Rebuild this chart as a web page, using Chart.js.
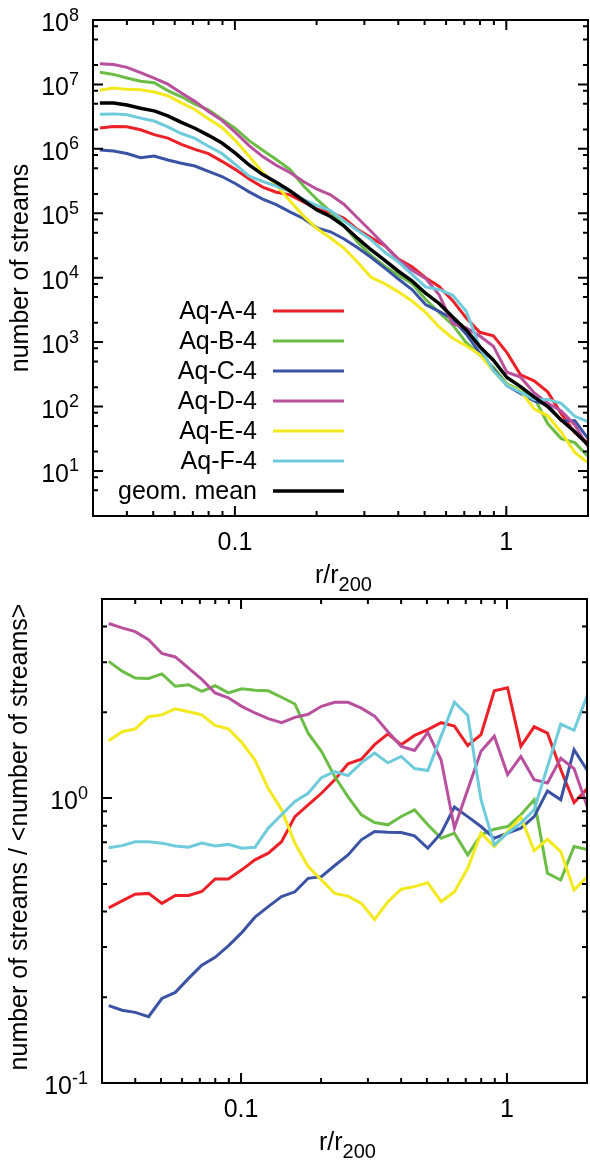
<!DOCTYPE html>
<html>
<head>
<meta charset="utf-8">
<script src="https://cdn.jsdelivr.net/npm/chart.js@4.4.1/dist/chart.umd.min.js"></script>
<style>
  html, body { margin: 0; padding: 0; background: #fff; }
  #wrap { position: relative; width: 590px; height: 1161px; }
  canvas { position: absolute; left: 0; }
  #chart-top { top: 0; }
  #chart-bottom { top: 580px; }
</style>
</head>
<body>
<div id="wrap">
  <canvas id="chart-top" width="590" height="600"></canvas>
  <canvas id="chart-bottom" width="590" height="581"></canvas>
</div>
<script>
// radial bins r/r200
const radius = [0.0318, 0.0357, 0.0400, 0.0449, 0.0504, 0.0566, 0.0635, 0.0712, 0.0799, 0.0896,
  0.1006, 0.1128, 0.1266, 0.1420, 0.1594, 0.1788, 0.2006, 0.2251, 0.2526, 0.2834,
  0.3180, 0.3568, 0.4003, 0.4492, 0.5040, 0.5655, 0.6345, 0.7119, 0.7987, 0.8962,
  1.0055, 1.1282, 1.2659, 1.4203, 1.5936, 1.7881, 2.0062];

// number of streams (top panel)
const countA = [2.11e6, 2.23e6, 2.20e6, 1.98e6, 1.66e6, 1.47e6, 1.17e6, 9.82e5, 8.43e5, 6.40e5,
  4.76e5, 3.41e5, 2.55e5, 2.12e5, 1.93e5, 1.50e5, 1.17e5, 1.03e5, 8.34e4, 5.58e4,
  4.15e4, 3.13e4, 1.94e4, 1.48e4, 1.00e4, 7.33e3, 4.40e3, 2.37e3, 1.42e3, 1.25e3,
  687, 310, 251, 169, 77.6, 39.4, 27.1];
const countB = [1.55e7, 1.43e7, 1.26e7, 1.12e7, 1.06e7, 8.00e6, 6.43e6, 4.95e6, 4.02e6, 2.88e6,
  2.06e6, 1.34e6, 9.48e5, 6.82e5, 4.79e5, 2.68e5, 1.64e5, 1.06e5, 6.37e4, 3.56e4,
  2.21e4, 1.50e4, 1.09e4, 8.11e3, 4.63e3, 2.88e3, 1.85e3, 979, 632, 408,
  224, 179, 139, 54.5, 31.8, 27.5, 16.6];
const countC = [9.59e5, 9.23e5, 8.47e5, 7.29e5, 7.71e5, 6.73e5, 5.98e5, 5.41e5, 4.48e5, 3.72e5,
  2.87e5, 2.15e5, 1.66e5, 1.36e5, 1.05e5, 8.30e4, 5.94e4, 5.16e4, 3.99e4, 2.91e4,
  2.06e4, 1.41e4, 9.53e3, 6.56e3, 3.84e3, 3.00e3, 2.28e3, 1.33e3, 676, 379,
  212, 160, 122, 106, 60.8, 60.3, 31.4];
const countD = [2.10e7, 2.03e7, 1.84e7, 1.53e7, 1.25e7, 1.01e7, 7.35e6, 5.46e6, 3.79e6, 2.77e6,
  1.79e6, 1.12e6, 7.57e5, 5.56e5, 4.30e5, 3.12e5, 2.36e5, 1.93e5, 1.37e5, 8.43e4,
  5.22e4, 3.18e4, 1.91e4, 1.31e4, 9.77e3, 5.42e3, 1.93e3, 1.66e3, 1.24e3, 865,
  341, 286, 164, 113, 85.1, 51.8, 23.3];
const countE = [8.15e6, 8.77e6, 8.38e6, 8.24e6, 7.62e6, 6.67e6, 5.16e6, 4.09e6, 2.92e6, 2.15e6,
  1.34e6, 7.66e5, 4.30e5, 2.75e5, 1.56e5, 9.12e4, 5.79e4, 4.13e4, 2.86e4, 1.74e4,
  1.01e4, 8.05e3, 6.03e3, 4.36e3, 2.90e3, 1.72e3, 1.15e3, 879, 641, 355,
  215, 175, 92.5, 71.8, 40.0, 19.4, 13.3];
const countF = [3.44e6, 3.49e6, 3.37e6, 3.00e6, 2.70e6, 2.20e6, 1.73e6, 1.45e6, 1.10e6, 8.47e5,
  5.68e5, 3.78e5, 3.13e5, 2.64e5, 2.18e5, 1.65e5, 1.32e5, 1.10e5, 7.57e4, 5.42e4,
  3.87e4, 2.48e4, 1.76e4, 1.13e4, 7.19e3, 6.56e3, 5.32e3, 3.02e3, 839, 360,
  212, 167, 129, 129, 112, 70.5, 57.8];
const countMean = [5.13e6, 5.13e6, 4.79e6, 4.27e6, 3.89e6, 3.24e6, 2.57e6, 2.09e6, 1.62e6, 1.23e6,
  8.51e5, 5.62e5, 3.98e5, 3.02e5, 2.24e5, 1.58e5, 1.12e5, 8.91e4, 6.31e4, 4.07e4,
  2.69e4, 1.86e4, 1.26e4, 8.91e3, 5.75e3, 3.98e3, 2.45e3, 1.55e3, 851, 525,
  282, 204, 141, 100, 61.7, 40.7, 25.1];

// number of streams / <number of streams> (bottom panel)
const ratioA = [0.412, 0.436, 0.460, 0.463, 0.427, 0.455, 0.455, 0.470, 0.520, 0.520,
  0.560, 0.607, 0.641, 0.703, 0.861, 0.947, 1.04, 1.16, 1.32, 1.37,
  1.54, 1.68, 1.54, 1.66, 1.74, 1.84, 1.79, 1.53, 1.67, 2.38,
  2.44, 1.52, 1.78, 1.69, 1.26, 0.965, 1.08];
const ratioB = [3.02, 2.79, 2.64, 2.63, 2.73, 2.47, 2.50, 2.37, 2.48, 2.34,
  2.42, 2.39, 2.38, 2.26, 2.14, 1.69, 1.46, 1.19, 1.01, 0.874,
  0.821, 0.806, 0.862, 0.91, 0.806, 0.723, 0.753, 0.632, 0.743, 0.778,
  0.795, 0.874, 0.987, 0.545, 0.516, 0.676, 0.66];
const ratioC = [0.187, 0.180, 0.177, 0.171, 0.198, 0.208, 0.233, 0.259, 0.276, 0.303,
  0.337, 0.382, 0.416, 0.451, 0.469, 0.523, 0.530, 0.58, 0.632, 0.714,
  0.763, 0.759, 0.757, 0.737, 0.667, 0.753, 0.930, 0.861, 0.795, 0.723,
  0.753, 0.785, 0.861, 1.06, 0.987, 1.48, 1.25];
const ratioD = [4.10, 3.96, 3.84, 3.60, 3.22, 3.13, 2.86, 2.61, 2.34, 2.25,
  2.10, 1.99, 1.90, 1.84, 1.92, 1.97, 2.10, 2.17, 2.17, 2.07,
  1.94, 1.71, 1.52, 1.47, 1.70, 1.36, 0.785, 1.07, 1.46, 1.65,
  1.21, 1.40, 1.16, 1.13, 1.38, 1.27, 0.93];
const ratioE = [1.59, 1.71, 1.75, 1.93, 1.96, 2.06, 2.01, 1.96, 1.80, 1.75,
  1.57, 1.36, 1.08, 0.91, 0.695, 0.575, 0.516, 0.463, 0.453, 0.427,
  0.375, 0.433, 0.479, 0.489, 0.505, 0.433, 0.469, 0.567, 0.753, 0.676,
  0.763, 0.857, 0.654, 0.717, 0.649, 0.476, 0.53];
const ratioF = [0.670, 0.681, 0.703, 0.703, 0.695, 0.679, 0.672, 0.695, 0.679, 0.688,
  0.667, 0.672, 0.785, 0.874, 0.973, 1.04, 1.18, 1.24, 1.20, 1.33,
  1.44, 1.33, 1.40, 1.27, 1.25, 1.65, 2.17, 1.95, 0.987, 0.685,
  0.753, 0.817, 0.91, 1.29, 1.82, 1.73, 2.3];

const seriesNames = ['Aq-A-4', 'Aq-B-4', 'Aq-C-4', 'Aq-D-4', 'Aq-E-4', 'Aq-F-4'];
const seriesColors = ['#ec2027', '#6bbd45', '#3a53a4', '#b8509e', '#f3e91c', '#6dcbdb'];

// ticks
const xMajor = [0.1, 1];
const xMinor = [0.04, 0.05, 0.06, 0.07, 0.08, 0.09, 0.2, 0.3, 0.4, 0.5, 0.6, 0.7, 0.8, 0.9, 2];
const topYMajor = [10, 100, 1e3, 1e4, 1e5, 1e6, 1e7, 1e8];
const topYMinor = [5, 8, 20, 50, 80, 200, 500, 800, 2e3, 5e3, 8e3, 2e4, 5e4, 8e4,
  2e5, 5e5, 8e5, 2e6, 5e6, 8e6, 2e7, 5e7, 8e7];
const botYMajor = [0.1, 1];
const botYMinor = [0.2, 0.3, 0.4, 0.5, 0.6, 0.7, 0.8, 0.9, 2, 3, 4];

const FONT = '"Liberation Sans", Arial, sans-serif';

const toPoints = vals => radius.map((r, k) => ({ x: r, y: vals[k] }));

function lineSet(label, color, vals, width, order) {
    return { label, data: toPoints(vals), borderColor: color, backgroundColor: color,
        borderWidth: width, pointRadius: 0, fill: false, tension: 0, clip: 0, order };
}

function drawPow(ctx, value, xRight, y) {
    const exp = String(Math.round(Math.log10(value)));
    ctx.font = `18px ${FONT}`;
    const ew = ctx.measureText(exp).width;
    ctx.font = `25px ${FONT}`;
    const bw = ctx.measureText('10').width;
    ctx.textAlign = 'left';
    ctx.textBaseline = 'alphabetic';
    ctx.fillText('10', xRight - ew - bw, y + 11);
    ctx.font = `18px ${FONT}`;
    ctx.fillText(exp, xRight - ew, y + 0.5);
}

const framePlugin = {
    id: 'frame',
    afterDatasetsDraw(chart, args, opts) {
        const { ctx, chartArea: a, scales: { x, y } } = chart;
        ctx.save();
        ctx.strokeStyle = '#000';
        ctx.fillStyle = '#000';
        ctx.lineWidth = 2;
        ctx.strokeRect(a.left, a.top, a.right - a.left, a.bottom - a.top);

        // inward ticks on all four sides
        ctx.beginPath();
        const xt = (v, len) => {
            const p = x.getPixelForValue(v);
            ctx.moveTo(p, a.bottom); ctx.lineTo(p, a.bottom - len);
            ctx.moveTo(p, a.top); ctx.lineTo(p, a.top + len);
        };
        const yt = (v, len) => {
            const p = y.getPixelForValue(v);
            ctx.moveTo(a.left, p); ctx.lineTo(a.left + len, p);
            ctx.moveTo(a.right, p); ctx.lineTo(a.right - len, p);
        };
        xMajor.forEach(v => xt(v, 10));
        xMinor.forEach(v => xt(v, 5));
        opts.yMajor.forEach(v => yt(v, 10));
        opts.yMinor.forEach(v => yt(v, 5));
        ctx.stroke();

        // tick labels
        ctx.font = `25px ${FONT}`;
        ctx.textAlign = 'center';
        ctx.textBaseline = 'alphabetic';
        xMajor.forEach(v => ctx.fillText(String(v), x.getPixelForValue(v), a.bottom + 34));
        opts.yMajor.forEach(v => drawPow(ctx, v, a.left - 14, y.getPixelForValue(v)));

        // x title r/r200
        ctx.font = `25px ${FONT}`;
        const w1 = ctx.measureText('r/r').width;
        ctx.font = `20px ${FONT}`;
        const w2 = ctx.measureText('200').width;
        const cx = (a.left + a.right) / 2 + 3;
        ctx.textAlign = 'left';
        ctx.font = `25px ${FONT}`;
        ctx.fillText('r/r', cx - (w1 + w2) / 2, a.bottom + 67);
        ctx.font = `20px ${FONT}`;
        ctx.fillText('200', cx - (w1 + w2) / 2 + w1, a.bottom + 75);

        // y title
        ctx.save();
        ctx.translate(opts.yTitleX, (a.top + a.bottom) / 2 + opts.yTitleShift);
        ctx.rotate(-Math.PI / 2);
        ctx.font = `25px ${FONT}`;
        ctx.textAlign = 'center';
        ctx.textBaseline = 'middle';
        ctx.fillText(opts.yTitle, 0, 0);
        ctx.restore();

        // key: text left, sample line right
        if (opts.key) {
            const sets = chart.data.datasets;
            sets.forEach((ds, k) => {
                const ly = 311 + 30 * k;
                ctx.font = `25px ${FONT}`;
                ctx.textAlign = 'right';
                ctx.textBaseline = 'middle';
                ctx.fillStyle = '#000';
                ctx.fillText(ds.label, 257, ly + 1);
                ctx.strokeStyle = ds.borderColor;
                ctx.lineWidth = ds.borderWidth;
                ctx.beginPath();
                ctx.moveTo(273, ly);
                ctx.lineTo(344, ly);
                ctx.stroke();
            });
        }
        ctx.restore();
    }
};

function baseOptions(yMin, yMax, padding, frame) {
    return {
        responsive: false,
        animation: false,
        events: [],
        layout: { padding },
        plugins: { legend: { display: false }, tooltip: { enabled: false }, frame },
        scales: {
            x: { type: 'logarithmic', min: 0.03, max: 2, display: false },
            y: { type: 'logarithmic', min: yMin, max: yMax, display: false }
        }
    };
}

const counts = [countA, countB, countC, countD, countE, countF];
const ratios = [ratioA, ratioB, ratioC, ratioD, ratioE, ratioF];

// Top panel
const topSets = seriesNames.map((n, k) => lineSet(n, seriesColors[k], counts[k], 3, 10 - k));
topSets.push(lineSet('geom. mean', '#000000', countMean, 3.5, 0));
new Chart(document.getElementById('chart-top').getContext('2d'), {
    type: 'line',
    data: { datasets: topSets },
    options: baseOptions(2, 1e8, { left: 93, right: 2, top: 20, bottom: 84 },
        { yMajor: topYMajor, yMinor: topYMinor, yTitle: 'number of streams', yTitleX: 21, yTitleShift: 0, key: true }),
    plugins: [framePlugin]
});

// Bottom panel
const botSets = seriesNames.map((n, k) => lineSet(n, seriesColors[k], ratios[k], 3, 10 - k));
new Chart(document.getElementById('chart-bottom').getContext('2d'), {
    type: 'line',
    data: { datasets: botSets },
    options: baseOptions(0.1, 5, { left: 102, right: 3, top: 19, bottom: 78 },
        { yMajor: botYMajor, yMinor: botYMinor, yTitle: 'number of streams / <number of streams>', yTitleX: 20, yTitleShift: -4, key: false }),
    plugins: [framePlugin]
});
</script>
</body>
</html>
